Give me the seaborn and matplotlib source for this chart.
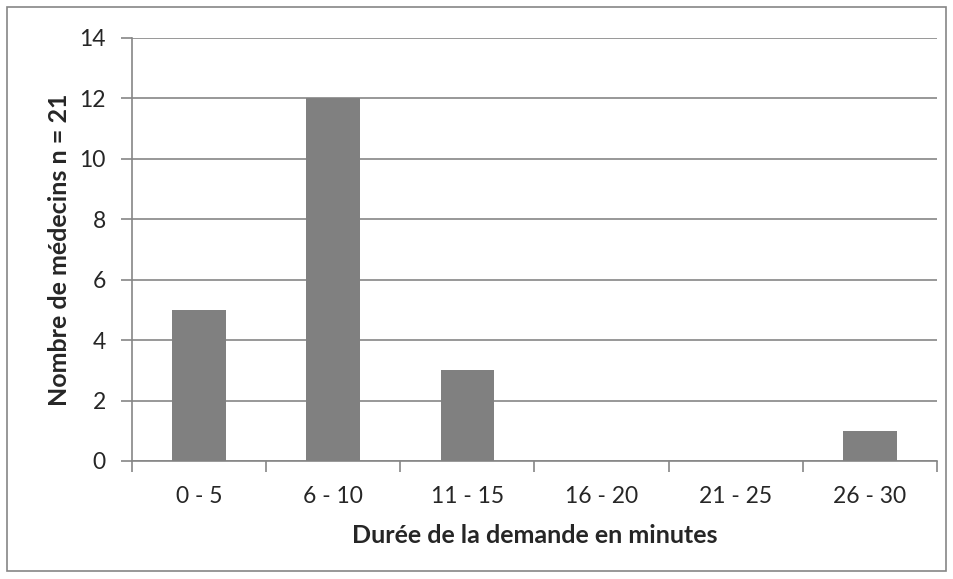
import numpy as np
import pandas as pd
import matplotlib
matplotlib.use("Agg")
import matplotlib.pyplot as plt
import seaborn as sns
from matplotlib.patches import Rectangle

# Data
categories = ["0 - 5", "6 - 10", "11 - 15", "16 - 20", "21 - 25", "26 - 30"]
counts = [5, 12, 3, 0, 0, 1]
y_ticks = [0, 2, 4, 6, 8, 10, 12, 14]

df = pd.DataFrame({"duree": categories, "n": counts})

sns.set_style("white")
plt.rcParams["font.family"] = ["Lato", "DejaVu Sans"]

grid_col = "#868686"
fig = plt.figure(figsize=(9.54, 5.79), dpi=100)
ax = fig.add_axes([0.1384, 0.2038, 0.982 - 0.1384, 0.9344 - 0.2038])

sns.barplot(data=df, x="duree", y="n", color="#808080", width=0.4,
            saturation=1, linewidth=0, ax=ax, zorder=3)

ax.set_xlim(-0.5, len(categories) - 0.5)
ax.set_ylim(0, 14)
ax.set_yticks(y_ticks)
ax.yaxis.grid(True, color=grid_col, linewidth=1.2, zorder=0)
ax.set_axisbelow(True)

# category boundary ticks like Excel
ax.set_xticks(np.arange(-0.5, len(categories), 1.0), minor=True)
ax.tick_params(axis="x", which="major", length=0, pad=18, labelsize=16.5)
ax.tick_params(axis="x", which="minor", length=8, width=1.2, color=grid_col, direction="out", bottom=True)
ax.tick_params(axis="y", length=8, width=1.2, color=grid_col, direction="out", labelsize=16.5, pad=11, left=True)

for side in ["top", "right"]:
    ax.spines[side].set_visible(False)
for side in ["left", "bottom"]:
    ax.spines[side].set_color(grid_col)
    ax.spines[side].set_linewidth(1.2)

ax.set_xlabel("Durée de la demande en minutes", fontsize=18, fontweight="bold", labelpad=12)
ax.set_ylabel("Nombre de médecins n = 21", fontsize=18, fontweight="bold", labelpad=6)

# outer chart border
fig.patches.append(Rectangle((7 / 954, 8 / 579), 939 / 954, 564 / 579,
                             transform=fig.transFigure, fill=False,
                             edgecolor=grid_col, linewidth=1.2))

fig.savefig("out.png", dpi=100)
